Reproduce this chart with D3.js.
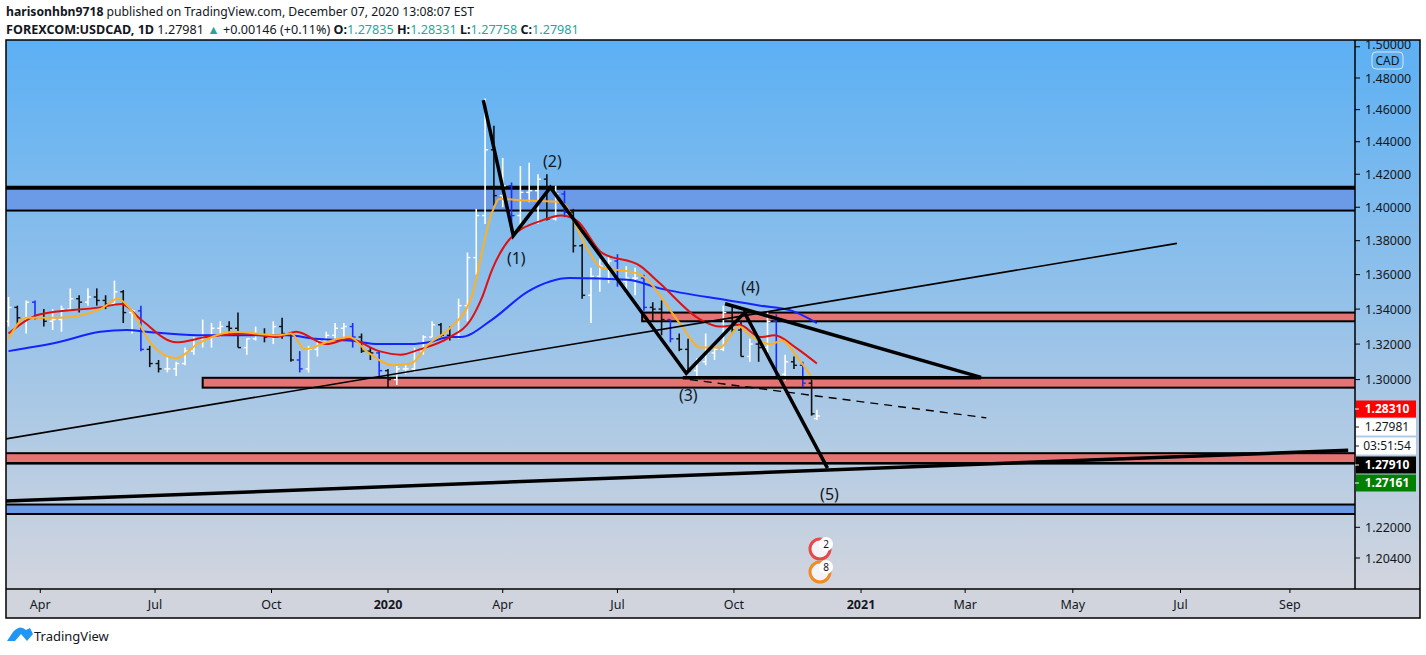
<!DOCTYPE html>
<html><head><meta charset="utf-8">
<script src="https://cdn.jsdelivr.net/npm/d3@7"></script>
<style>body{margin:0;background:#fff;font-family:"Noto Sans","Liberation Sans",sans-serif;}</style>
</head><body>
<svg id="c" width="1426" height="655"></svg>
<script>
// ---------- DATA ----------
const weekStarts = ["2019-03-04","2019-03-11","2019-03-18","2019-03-25","2019-04-01","2019-04-08","2019-04-15","2019-04-22","2019-04-29","2019-05-06","2019-05-13","2019-05-20","2019-05-27","2019-06-03","2019-06-10","2019-06-17","2019-06-24","2019-07-01","2019-07-08","2019-07-15","2019-07-22","2019-07-29","2019-08-05","2019-08-12","2019-08-19","2019-08-26","2019-09-02","2019-09-09","2019-09-16","2019-09-23","2019-09-30","2019-10-07","2019-10-14","2019-10-21","2019-10-28","2019-11-04","2019-11-11","2019-11-18","2019-11-25","2019-12-02","2019-12-09","2019-12-16","2019-12-23","2019-12-30","2020-01-06","2020-01-13","2020-01-20","2020-01-27","2020-02-03","2020-02-10","2020-02-17","2020-02-24","2020-03-02","2020-03-09","2020-03-16","2020-03-23","2020-03-30","2020-04-06","2020-04-13","2020-04-20","2020-04-27","2020-05-04","2020-05-11","2020-05-18","2020-05-25","2020-06-01","2020-06-08","2020-06-15","2020-06-22","2020-06-29","2020-07-06","2020-07-13","2020-07-20","2020-07-27","2020-08-03","2020-08-10","2020-08-17","2020-08-24","2020-08-31","2020-09-07","2020-09-14","2020-09-21","2020-09-28","2020-10-05","2020-10-12","2020-10-19","2020-10-26","2020-11-02","2020-11-09","2020-11-16","2020-11-23","2020-11-30","2020-12-07"];
const opens  = [1.3330,1.3410,1.3350,1.3440,1.3350,1.3330,1.3340,1.3400,1.3460,1.3440,1.3470,1.3450,1.3430,1.3500,1.3380,1.3390,1.3170,1.3090,1.3060,1.3060,1.3090,1.3160,1.3230,1.3240,1.3290,1.3300,1.3290,1.3180,1.3230,1.3250,1.3240,1.3300,1.3260,1.3110,1.3060,1.3170,1.3220,1.3250,1.3290,1.3300,1.3240,1.3160,1.3150,1.3050,1.3000,1.3060,1.3060,1.3160,1.3240,1.3310,1.3250,1.3240,1.3420,1.3700,1.3950,1.4350,1.4070,1.4130,1.3950,1.4090,1.4100,1.4170,1.3930,1.4080,1.3970,1.3770,1.3480,1.3590,1.3650,1.3680,1.3560,1.3580,1.3580,1.3410,1.3400,1.3340,1.3230,1.3170,1.3050,1.3100,1.3150,1.3170,1.3380,1.3280,1.3130,1.3200,1.3180,1.3330,1.3030,1.3100,1.3080,1.2980,1.2784];
const highs  = [1.3470,1.3420,1.3450,1.3450,1.3400,1.3400,1.3420,1.3520,1.3480,1.3520,1.3520,1.3480,1.3565,1.3510,1.3400,1.3420,1.3190,1.3110,1.3130,1.3100,1.3180,1.3240,1.3340,1.3320,1.3330,1.3330,1.3380,1.3230,1.3300,1.3290,1.3330,1.3350,1.3260,1.3160,1.3190,1.3230,1.3270,1.3320,1.3320,1.3320,1.3260,1.3180,1.3160,1.3060,1.3080,1.3090,1.3180,1.3250,1.3330,1.3320,1.3300,1.3460,1.3730,1.3990,1.4670,1.4500,1.4300,1.4150,1.4250,1.4270,1.4200,1.4200,1.4130,1.4100,1.3990,1.3780,1.3640,1.3690,1.3710,1.3720,1.3650,1.3640,1.3600,1.3440,1.3450,1.3340,1.3260,1.3230,1.3120,1.3260,1.3190,1.3420,1.3420,1.3330,1.3230,1.3230,1.3390,1.3370,1.3140,1.3130,1.3100,1.3000,1.2833];
const lows   = [1.3300,1.3300,1.3260,1.3340,1.3300,1.3280,1.3270,1.3400,1.3380,1.3420,1.3420,1.3400,1.3420,1.3320,1.3260,1.3160,1.3070,1.3040,1.3040,1.3020,1.3080,1.3140,1.3180,1.3180,1.3240,1.3260,1.3180,1.3140,1.3220,1.3210,1.3200,1.3230,1.3100,1.3040,1.3040,1.3130,1.3200,1.3230,1.3230,1.3180,1.3150,1.3110,1.3020,1.2955,1.2970,1.3030,1.3040,1.3140,1.3240,1.3240,1.3220,1.3230,1.3330,1.3600,1.3900,1.4010,1.4000,1.3850,1.3860,1.4030,1.3900,1.3920,1.3920,1.3940,1.3730,1.3460,1.3320,1.3500,1.3550,1.3530,1.3490,1.3480,1.3390,1.3330,1.3250,1.3210,1.3160,1.3050,1.3010,1.3080,1.3110,1.3160,1.3260,1.3130,1.3100,1.3100,1.3150,1.3010,1.2995,1.3060,1.2960,1.2800,1.2776];
const closes = [1.3410,1.3350,1.3440,1.3350,1.3330,1.3340,1.3400,1.3460,1.3440,1.3470,1.3450,1.3430,1.3500,1.3380,1.3390,1.3170,1.3090,1.3060,1.3060,1.3090,1.3160,1.3230,1.3240,1.3290,1.3300,1.3290,1.3180,1.3230,1.3250,1.3240,1.3300,1.3260,1.3110,1.3060,1.3170,1.3220,1.3250,1.3290,1.3300,1.3240,1.3160,1.3150,1.3050,1.3000,1.3060,1.3060,1.3160,1.3240,1.3310,1.3250,1.3240,1.3420,1.3700,1.3950,1.4350,1.4070,1.4130,1.3950,1.4090,1.4100,1.4170,1.3930,1.4080,1.3970,1.3770,1.3480,1.3590,1.3650,1.3680,1.3560,1.3580,1.3580,1.3410,1.3400,1.3340,1.3230,1.3170,1.3050,1.3100,1.3150,1.3170,1.3380,1.3280,1.3130,1.3200,1.3180,1.3330,1.3030,1.3100,1.3080,1.2980,1.2810,1.2798];

const maFastDates = ["2019-03-06","2019-03-20","2019-04-14","2019-05-17","2019-05-31","2019-06-11","2019-06-27","2019-07-17","2019-08-02","2019-09-02","2019-10-04","2019-10-16","2019-10-28","2019-11-13","2019-11-30","2019-12-17","2020-01-06","2020-01-18","2020-02-03","2020-02-19","2020-03-06","2020-03-24","2020-03-30","2020-04-21","2020-05-17","2020-06-08","2020-06-18","2020-07-09","2020-07-19","2020-08-20","2020-09-04","2020-09-20","2020-10-06","2020-10-14","2020-10-30","2020-11-07","2020-11-23","2020-12-03"];
const maFast      = [1.323,1.335,1.335,1.340,1.346,1.340,1.320,1.312,1.320,1.327,1.325,1.326,1.317,1.321,1.324,1.315,1.308,1.309,1.320,1.329,1.346,1.397,1.405,1.404,1.403,1.375,1.364,1.362,1.360,1.331,1.318,1.318,1.330,1.325,1.320,1.322,1.311,1.300];
const maMidDates  = ["2019-03-06","2019-03-30","2019-05-17","2019-06-04","2019-06-19","2019-07-17","2019-08-09","2019-09-10","2019-10-04","2019-10-20","2019-11-13","2019-11-30","2019-12-25","2020-01-10","2020-01-26","2020-02-19","2020-03-06","2020-03-14","2020-03-24","2020-04-07","2020-05-01","2020-05-17","2020-05-29","2020-06-18","2020-07-19","2020-08-04","2020-09-04","2020-09-20","2020-10-06","2020-10-22","2020-11-03","2020-11-19","2020-12-07"];
const maMid       = [1.326,1.337,1.341,1.343,1.334,1.321,1.324,1.326,1.324,1.327,1.320,1.323,1.316,1.314,1.317,1.324,1.334,1.346,1.363,1.381,1.392,1.395,1.392,1.373,1.365,1.355,1.334,1.330,1.331,1.324,1.325,1.318,1.309];
const maSlowDates = ["2019-03-06","2019-04-14","2019-05-17","2019-06-07","2019-06-23","2019-08-02","2019-09-02","2019-10-12","2019-11-05","2019-11-30","2019-12-25","2020-01-18","2020-02-03","2020-02-19","2020-02-27","2020-03-24","2020-04-21","2020-05-25","2020-07-09","2020-08-04","2020-09-26","2020-10-22","2020-11-17","2020-12-07"];
const maSlow      = [1.316,1.321,1.327,1.328,1.327,1.325,1.325,1.325,1.323,1.322,1.320,1.320,1.321,1.324,1.324,1.334,1.350,1.358,1.357,1.352,1.345,1.342,1.339,1.332];

const priceTicks = [1.50,1.48,1.46,1.44,1.42,1.40,1.38,1.36,1.34,1.32,1.30,1.22,1.204];
const timeTickDates  = ["2019-04-01","2019-07-01","2019-10-01","2020-01-01","2020-04-01","2020-07-01","2020-10-01","2021-01-01","2021-03-01","2021-05-01","2021-07-01","2021-09-01"];
const timeTickLabels = ["Apr","Jul","Oct","2020","Apr","Jul","Oct","2021","Mar","May","Jul","Sep"];

const zoneStarts = [null, "2020-07-21", "2019-08-07", null, null];
const zoneTops   = [1.4118, 1.3380, 1.3010, 1.2595, 1.2320];
const zoneBots   = [1.3980, 1.3330, 1.2955, 1.2541, 1.2270];
const zoneKinds  = ["blue","red","red","red","blue"];

const waveDates  = ["2020-03-17","2020-04-09","2020-05-08","2020-08-25","2020-10-09","2020-12-13"];
const wavePrices = [1.466,1.383,1.412,1.3035,1.338,1.2514];
const waveLabels = ["","(1)","(2)","(3)","(4)","(5)"];

const trendThin  = {dates:["2019-03-04","2021-06-29"], prices:[1.2672,1.3784]};
const trendThick = {dates:["2019-03-04","2021-10-04"], prices:[1.2338,1.2611]};
const triTop     = {dates:["2020-09-24","2021-03-10"], prices:[1.3431,1.3012]};
const triBase    = {dates:["2020-08-21","2021-03-10"], prices:[1.3010,1.3010]};
const dashLine   = {dates:["2020-08-27","2021-03-13"], prices:[1.3000,1.2788]};

const badgeTexts  = ["1.28310","1.27981","03:51:54","1.27910","1.27161"];
const badgeFills  = ["#ff0000","#ffffff","#ffffff","#000000","#008000"];
const badgeColors = ["#ffffff","#131722","#131722","#ffffff","#ffffff"];

// ---------- SCALES ----------
const L=6, R=1355, T=40, B=589;
const svg=d3.select("#c");
const parse=d3.utcParse("%Y-%m-%d");
const anchor=parse("2020-01-01"), lastBar=parse("2020-12-07");
function weekdaysBetween(a,b){
  let s=1; if(b<a){[a,b]=[b,a]; s=-1;}
  let n=0; for(let d=new Date(a); d<b; d=d3.utcDay.offset(d,1)){const w=d.getUTCDay(); if(w!==0&&w!==6)n++;}
  return s*n;
}
const lastSlot=weekdaysBetween(anchor,lastBar);
function slot(ds){const d=typeof ds==="string"?parse(ds):ds;
  if(d<=lastBar) return weekdaysBetween(anchor,d);
  return lastSlot+d3.utcDay.count(lastBar,d);}
const xs=d3.scaleLinear().domain([0,lastSlot]).range([388,388+lastSlot*1.765]);
const X=ds=>xs(slot(ds));
const ys=d3.scaleLog().domain([1.204,1.48]).range([558,78]);

// ---------- BACKGROUND ----------
const defs=svg.append("defs");
const g=defs.append("linearGradient").attr("id","bg").attr("x1",0).attr("y1",0).attr("x2",0).attr("y2",1);
g.append("stop").attr("offset",0).attr("stop-color","#5cb0f4");
g.append("stop").attr("offset",0.45).attr("stop-color","#90c0ea");
g.append("stop").attr("offset",1).attr("stop-color","#d2d5de");
defs.append("clipPath").attr("id","clip").append("rect").attr("x",L).attr("y",T).attr("width",R-L).attr("height",B-T);
defs.append("clipPath").attr("id","clipAxis").append("rect").attr("x",R).attr("y",T).attr("width",70).attr("height",B-T);
svg.append("rect").attr("x",L).attr("y",T).attr("width",1420-L).attr("height",B-T).attr("fill","url(#bg)");
svg.append("rect").attr("x",L).attr("y",B).attr("width",1420-L).attr("height",618-B).attr("fill","#d1d4dc");

const plot=svg.append("g").attr("clip-path","url(#clip)");

zoneKinds.forEach((k,i)=>{
  const x0=zoneStarts[i]?X(zoneStarts[i]):L-2;
  const y0=ys(zoneTops[i]), y1=ys(zoneBots[i]);
  plot.append("rect").attr("x",x0).attr("y",y0).attr("width",R+5-x0).attr("height",y1-y0)
    .attr("fill",k==="blue"?"#6b9be6":"#e47474").attr("stroke","#000").attr("stroke-width",2);
});
plot.append("line").attr("x1",L).attr("x2",R).attr("y1",ys(zoneTops[0])).attr("y2",ys(zoneTops[0])).attr("stroke","#000").attr("stroke-width",4);
plot.append("line").attr("x1",L).attr("x2",R).attr("y1",ys(zoneBots[3])).attr("y2",ys(zoneBots[3])).attr("stroke","#000").attr("stroke-width",2.5);

const bars=weekStarts.map((d,i)=>({d:d3.utcDay.offset(parse(d),2),o:opens[i],h:highs[i],l:lows[i],c:closes[i]}));
bars[bars.length-1].d=lastBar;
const bg=plot.append("g");
bars.forEach((b,i)=>{
  const x=X(b.d); const col=b.c>=b.o?"#ffffff":(i%3===0?"#1a2cff":"#111");
  bg.append("line").attr("x1",x).attr("x2",x).attr("y1",ys(b.h)).attr("y2",ys(b.l)).attr("stroke",col).attr("stroke-width",1.6);
  bg.append("line").attr("x1",x-3).attr("x2",x).attr("y1",ys(b.o)).attr("y2",ys(b.o)).attr("stroke",col).attr("stroke-width",1.4);
  bg.append("line").attr("x1",x).attr("x2",x+3).attr("y1",ys(b.c)).attr("y2",ys(b.c)).attr("stroke",col).attr("stroke-width",1.4);
});

const lineGen=d3.line().x(d=>X(d[0])).y(d=>ys(d[1])).curve(d3.curveMonotoneX);
[[maSlowDates,maSlow,"#1424ff"],[maMidDates,maMid,"#e01010"],[maFastDates,maFast,"#ffb020"]].forEach(([ds,vs,c])=>{
  plot.append("path").attr("d",lineGen(ds.map((d,i)=>[d,vs[i]]))).attr("fill","none").attr("stroke",c).attr("stroke-width",2);
});

function seg(o,w,dash){plot.append("line").attr("x1",X(o.dates[0])).attr("y1",ys(o.prices[0])).attr("x2",X(o.dates[1])).attr("y2",ys(o.prices[1]))
  .attr("stroke","#000").attr("stroke-width",w).attr("stroke-dasharray",dash||null);}
seg(trendThin,1.6); seg(trendThick,3.5); seg(triTop,3.5); seg(triBase,3.5); seg(dashLine,1.4,"8,6");
const wl=d3.line().x(d=>X(d[0])).y(d=>ys(d[1]));
plot.append("path").attr("d",wl(waveDates.map((d,i)=>[d,wavePrices[i]]))).attr("fill","none").attr("stroke","#000").attr("stroke-width",3.5);
const labOff=[0,28,-20,28,-20,32];
waveLabels.forEach((t,i)=>{ if(!t)return;
  plot.append("text").attr("x",X(waveDates[i])+(i===1?3:i===4?6:2)).attr("y",ys(wavePrices[i])+labOff[i])
   .attr("text-anchor","middle").attr("font-size",16).attr("fill","#131722").text(t);});

[["2",549,"#e84848"],["8",572,"#f08a24"]].forEach(([t,y,c])=>{
  plot.append("circle").attr("cx",820).attr("cy",y).attr("r",10).attr("fill","#f4f4f8").attr("stroke",c).attr("stroke-width",3);
  plot.append("circle").attr("cx",826).attr("cy",y-5).attr("r",7).attr("fill","#fff");
  plot.append("text").attr("x",826).attr("y",y-1).attr("text-anchor","middle").attr("font-size",10).attr("fill","#131722").text(t);
});

const fr=svg.append("g").attr("stroke","#000").attr("stroke-width",1.5).attr("fill","none");
fr.append("rect").attr("x",L).attr("y",T).attr("width",1420-L).attr("height",618-T);
fr.append("line").attr("x1",R).attr("x2",R).attr("y1",T).attr("y2",B);
fr.append("line").attr("x1",L).attr("x2",1420).attr("y1",B).attr("y2",B);

const pa=svg.append("g").attr("clip-path","url(#clipAxis)");
priceTicks.forEach(p=>{const y=ys(p); if(y<T-6||y>B)return;
  pa.append("line").attr("x1",R).attr("x2",R+5).attr("y1",y).attr("y2",y).attr("stroke","#000");
  pa.append("text").attr("x",R+10).attr("y",y+(p>=1.5?2:4.5)).attr("font-size",12.5).attr("fill","#131722").text(p.toFixed(5));
});
const pb=svg.append("g");
pb.append("rect").attr("x",1372).attr("y",52).attr("width",31).attr("height",17).attr("rx",4).attr("fill","#5eb0f2").attr("stroke","#d8e6f5");
pb.append("text").attr("x",1387.5).attr("y",65).attr("text-anchor","middle").attr("font-size",12).attr("fill","#131722").text("CAD");
const badgeY=[409,427,446,465,483];
badgeTexts.forEach((t,i)=>{
  pb.append("rect").attr("x",R+1).attr("y",badgeY[i]-8.5).attr("width",60).attr("height",17).attr("fill",badgeFills[i]);
  pb.append("line").attr("x1",R).attr("x2",R+4).attr("y1",badgeY[i]).attr("y2",badgeY[i]).attr("stroke",badgeColors[i]);
  pb.append("text").attr("x",R+32).attr("y",badgeY[i]+4).attr("text-anchor","middle").attr("font-size",12)
    .attr("font-weight",i===2||i===1?"normal":"bold").attr("fill",badgeColors[i]).text(t);
});

timeTickDates.forEach((d,i)=>{const x=X(d);
  svg.append("line").attr("x1",x).attr("x2",x).attr("y1",B).attr("y2",B+4).attr("stroke","#000");
  svg.append("text").attr("x",x).attr("y",B+20).attr("text-anchor","middle").attr("font-size",12.5)
    .attr("font-weight",/^\d{4}$/.test(timeTickLabels[i])?"bold":"normal").attr("fill","#131722").text(timeTickLabels[i]);
});

const h1=svg.append("text").attr("x",6).attr("y",16).attr("font-size",12.2).attr("fill","#131722");
h1.append("tspan").attr("font-weight","bold").text("harisonhbn9718");
h1.append("tspan").text(" published on TradingView.com, December 07, 2020 13:08:07 EST");
const h2=svg.append("text").attr("x",6).attr("y",34).attr("font-size",12.6).attr("fill","#131722");
h2.append("tspan").attr("font-weight","bold").text("FOREXCOM:USDCAD, 1D");
h2.append("tspan").text("  1.27981 ");
h2.append("tspan").attr("fill","#26a69a").text("▲");
h2.append("tspan").text(" +0.00146 (+0.11%) ");
[["O:","1.27835"],["H:","1.28331"],["L:","1.27758"],["C:","1.27981"]].forEach(([a,b])=>{
  h2.append("tspan").attr("font-weight","bold").text(a); h2.append("tspan").attr("fill","#26a69a").text(b+" ");});

svg.append("path").attr("d","M7,641 L13,632 Q20,624 26,630 L30,628 L33,634 L27,641 L21,634 L15,641 Z").attr("fill","#2196f3");
svg.append("text").attr("x",34).attr("y",641).attr("font-size",13).attr("fill","#131722").text("TradingView");
</script>
</body></html>
